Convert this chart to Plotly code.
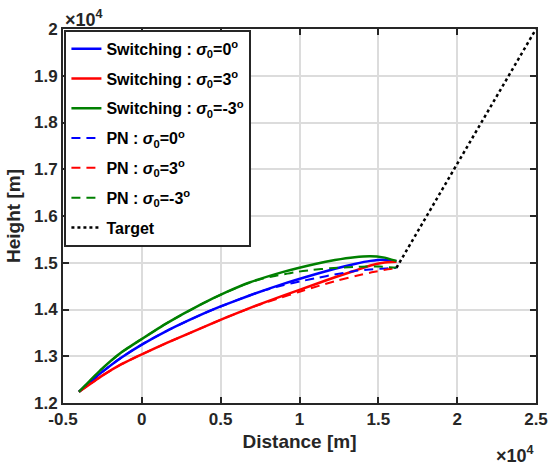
import plotly.graph_objects as go

# ---- data (metres) ----
sw0_x = [-3985, -2534, -1289, 0, 1619, 3692, 5000, 6831, 8919, 11000, 12250, 13500, 14500, 15300, 16150]
sw0_y = [12240, 12660, 12975, 13250, 13550, 13880, 14065, 14300, 14543, 14755, 14873, 14975, 15040, 15065, 15030]

swp3_x = [-3985, -2534, -1289, 0, 1619, 3692, 5400, 6831, 8919, 11000, 12250, 13500, 14500, 15300, 16150]
swp3_y = [12240, 12580, 12830, 13040, 13290, 13590, 13835, 14030, 14290, 14540, 14690, 14830, 14940, 15000, 15020]

swm3_x = [-3985, -2534, -1289, 0, 1619, 3692, 5355, 6831, 8919, 11000, 12250, 13500, 14500, 15300, 16150]
swm3_y = [12240, 12730, 13085, 13370, 13715, 14100, 14370, 14577, 14800, 14975, 15060, 15120, 15140, 15115, 15040]

pn0_x = [-3985, -2534, -1289, 0, 1619, 3692, 5000, 6831, 7875, 9019, 10169, 11206, 12144, 13444, 14274, 15104, 15934, 16150]
pn0_y = [12240, 12660, 12975, 13250, 13550, 13880, 14065, 14300, 14420, 14525, 14610, 14680, 14745, 14820, 14852, 14872, 14887, 14893]

pnp3_x = [-3985, -2534, -1289, 0, 1619, 3692, 5400, 6000, 7250, 8706, 9956, 11419, 12406, 13551, 14583, 15516, 16039, 16150]
pnp3_y = [12240, 12580, 12830, 13040, 13290, 13590, 13835, 13915, 14080, 14240, 14375, 14525, 14620, 14715, 14795, 14855, 14882, 14893]

pnm3_x = [-3985, -2534, -1289, 0, 1619, 3692, 5355, 6831, 8000, 8500, 9644, 10794, 11938, 13444, 14274, 15104, 15934, 16150]
pnm3_y = [12240, 12730, 13085, 13370, 13715, 14100, 14370, 14577, 14690, 14720, 14795, 14845, 14882, 14912, 14922, 14918, 14900, 14895]

target_x = [16150, 25000]
target_y = [14893, 20000]

x_ticks = [-5000, 0, 5000, 10000, 15000, 20000, 25000]
x_ticktext = ["-0.5", "0", "0.5", "1", "1.5", "2", "2.5"]
y_ticks = [12000, 13000, 14000, 15000, 16000, 17000, 18000, 19000, 20000]
y_ticktext = ["1.2", "1.3", "1.4", "1.5", "1.6", "1.7", "1.8", "1.9", "2"]

BLUE, RED, GREEN = "#0000FF", "#FF0000", "#008000"
DASH = "9px,6px"
FONT = "Liberation Sans, Arial, sans-serif"

series = [
    ("Switching : <i>σ</i><sub>0</sub>=0<sup>o</sup>", sw0_x, sw0_y, BLUE, "solid", 2.5),
    ("Switching : <i>σ</i><sub>0</sub>=3<sup>o</sup>", swp3_x, swp3_y, RED, "solid", 2.5),
    ("Switching : <i>σ</i><sub>0</sub>=-3<sup>o</sup>", swm3_x, swm3_y, GREEN, "solid", 2.5),
    ("PN : <i>σ</i><sub>0</sub>=0<sup>o</sup>", pn0_x, pn0_y, BLUE, DASH, 2),
    ("PN : <i>σ</i><sub>0</sub>=3<sup>o</sup>", pnp3_x, pnp3_y, RED, DASH, 2),
    ("PN : <i>σ</i><sub>0</sub>=-3<sup>o</sup>", pnm3_x, pnm3_y, GREEN, DASH, 2),
    ("Target", target_x, target_y, "#000000", "dot", 2.5),
]

fig = go.Figure()
for i, (name, xs, ys, col, dash, w) in enumerate(series):
    fig.add_trace(go.Scatter(
        x=xs, y=ys, mode="lines", name=name, legendgroup=f"g{i}",
        line=dict(color=col, dash=dash, width=w, shape="spline", smoothing=0.5),
    ))

axis_common = dict(
    showline=True, mirror="ticks", linecolor="#262626", linewidth=2,
    ticks="inside", ticklen=6, tickwidth=2, tickcolor="#262626",
    showgrid=True, gridcolor="#dcdcdc", gridwidth=1.5, zeroline=False,
    tickfont=dict(family=FONT, size=17, color="#262626", weight="bold"),
)

fig.update_layout(
    width=560, height=466,
    margin=dict(l=63, r=13, t=29, b=63),
    paper_bgcolor="white", plot_bgcolor="white",
    font=dict(family=FONT, color="#262626"),
    showlegend=True,
    legend=dict(
        x=0.003, y=0.998, xanchor="left", yanchor="top",
        bgcolor="white", bordercolor="#262626", borderwidth=2,
        font=dict(family=FONT, size=16, color="#000000", weight="bold"),
        tracegroupgap=6, traceorder="grouped",
    ),
    xaxis=dict(range=[-5000, 25000], tickvals=x_ticks, ticktext=x_ticktext,
               title=dict(text="<b>Distance [m]</b>", font=dict(family=FONT, size=19), standoff=6),
               **axis_common),
    yaxis=dict(range=[12000, 20000], tickvals=y_ticks, ticktext=y_ticktext,
               title=dict(text="<b>Height [m]</b>", font=dict(family=FONT, size=19), standoff=8),
               **axis_common),
)

fig.add_annotation(xref="paper", yref="paper", x=0, y=1, xanchor="left", yanchor="bottom",
                   text="<b>×10<sup>4</sup></b>", showarrow=False, yshift=-3,
                   font=dict(family=FONT, size=18, color="#262626"))
fig.add_annotation(xref="paper", yref="paper", x=1, y=0, xanchor="right", yanchor="top",
                   text="<b>×10<sup>4</sup></b>", showarrow=False, yshift=-38,
                   font=dict(family=FONT, size=18, color="#262626"))

fig.write_html("out.html")
